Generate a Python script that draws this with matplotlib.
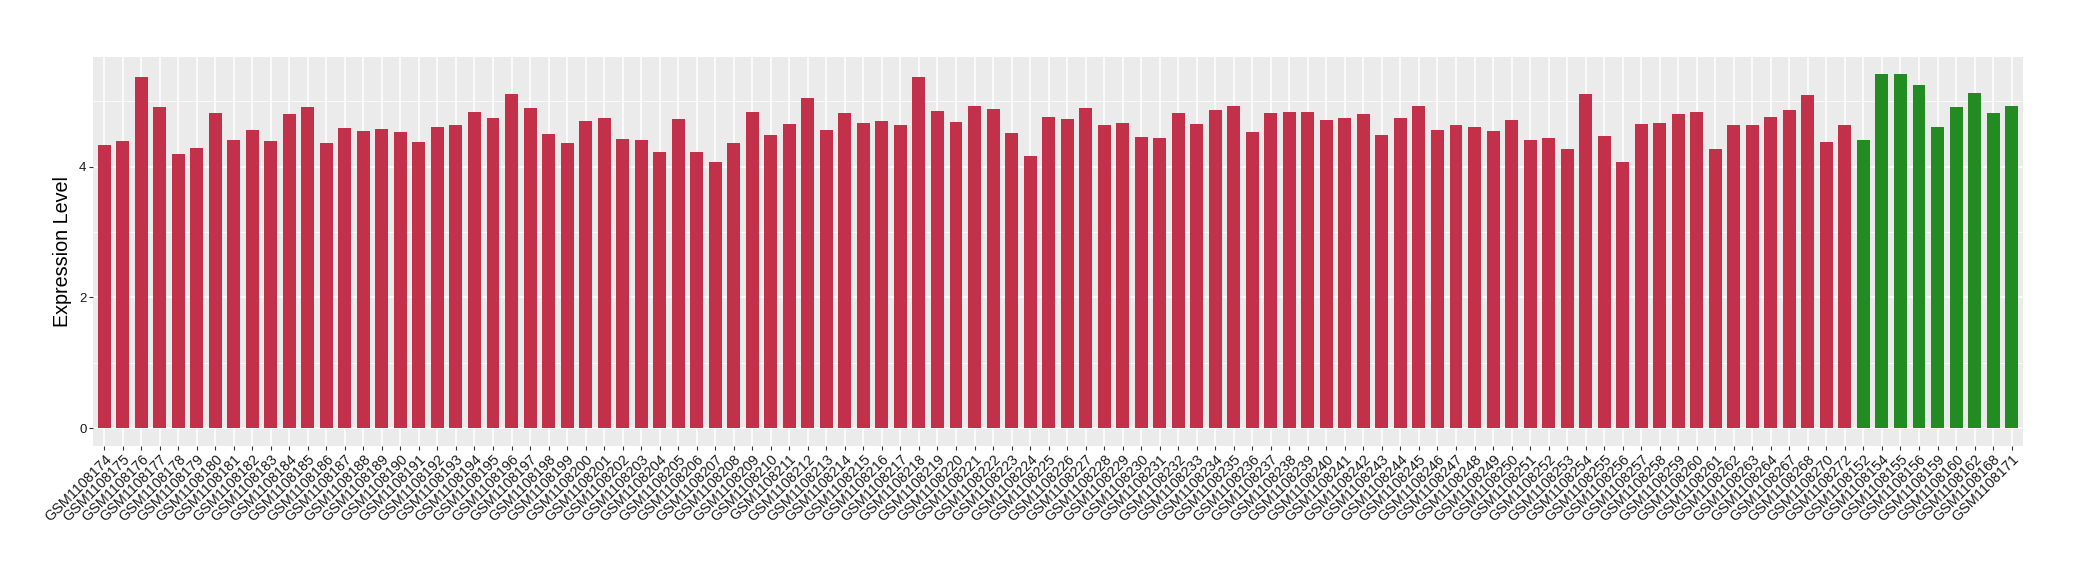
import numpy as np
import matplotlib
matplotlib.use("Agg")
import matplotlib.pyplot as plt
from matplotlib.ticker import FixedLocator

plt.rcParams['font.family'] = ['Liberation Sans', 'DejaVu Sans']

# sample ids (red group first, then green group), as ordered on the axis
red_ids = list(range(1108174, 1108265)) + [1108267, 1108268, 1108270, 1108272]
green_ids = [1108152, 1108154, 1108155, 1108156, 1108159, 1108160, 1108162, 1108168, 1108171]

red_values = [
    4.33, 4.39, 5.37, 4.91, 4.19, 4.28, 4.82, 4.41, 4.56, 4.39,
    4.81, 4.91, 4.36, 4.59, 4.54, 4.57, 4.53, 4.37, 4.61, 4.64,
    4.84, 4.74, 5.11, 4.90, 4.50, 4.36, 4.70, 4.74, 4.42, 4.41,
    4.22, 4.73, 4.22, 4.07, 4.36, 4.84, 4.48, 4.65, 5.05, 4.56,
    4.82, 4.67, 4.70, 4.64, 5.37, 4.85, 4.68, 4.93, 4.88, 4.51,
    4.16, 4.76, 4.73, 4.90, 4.64, 4.67, 4.45, 4.44, 4.82, 4.65,
    4.87, 4.93, 4.53, 4.82, 4.84, 4.84, 4.71, 4.74, 4.81, 4.48,
    4.74, 4.93, 4.56, 4.64, 4.61, 4.54, 4.71, 4.41, 4.44, 4.27,
    5.11, 4.47, 4.07, 4.65, 4.67, 4.81, 4.84, 4.27, 4.64, 4.64,
    4.76, 4.87, 5.10, 4.37, 4.64,
]
green_values = [4.41, 5.41, 5.41, 5.25, 4.61, 4.91, 5.13, 4.82, 4.93]

labels = ["GSM%d" % i for i in red_ids + green_ids]
values = red_values + green_values
colors = ['#C3304A'] * len(red_values) + ['#228B22'] * len(green_values)

fig = plt.figure(figsize=(20.8, 5.8), dpi=100)
ax = fig.add_axes([93 / 2080, 1 - 445.7 / 580, (2022.7 - 93) / 2080, (445.7 - 56.7) / 580])

x = np.arange(len(values))
ax.set_facecolor('#EBEBEB')
ax.bar(x, values, width=0.7, color=colors, zorder=3)

ymax = max(values)
ax.set_xlim(-0.6, len(values) - 0.4)
ax.set_ylim(-0.05 * ymax, 1.05 * ymax)

ax.yaxis.set_major_locator(FixedLocator([0, 2, 4]))
ax.yaxis.set_minor_locator(FixedLocator([1, 3, 5]))
ax.set_xticks(x)
ax.set_xticklabels(labels, rotation=45, ha='right', va='top', rotation_mode='anchor')

ax.grid(which='major', color='white', linewidth=1.1, zorder=0)
ax.grid(which='minor', axis='y', color='white', linewidth=0.55, zorder=0)
ax.set_axisbelow(True)

for s in ax.spines.values():
    s.set_visible(False)

ax.tick_params(axis='both', which='major', length=2.7, width=0.8, color='#333333',
               labelcolor='#1A1A1A', pad=2)
ax.tick_params(axis='x', labelsize=10.4)
ax.tick_params(axis='y', labelsize=9.5)
ax.tick_params(axis='y', which='minor', length=0)

ax.set_ylabel('Expression Level', fontsize=14.2, color='black')
ax.yaxis.set_label_coords(-0.011, 0.5)

fig.savefig('out.png', dpi=100, facecolor='white')
